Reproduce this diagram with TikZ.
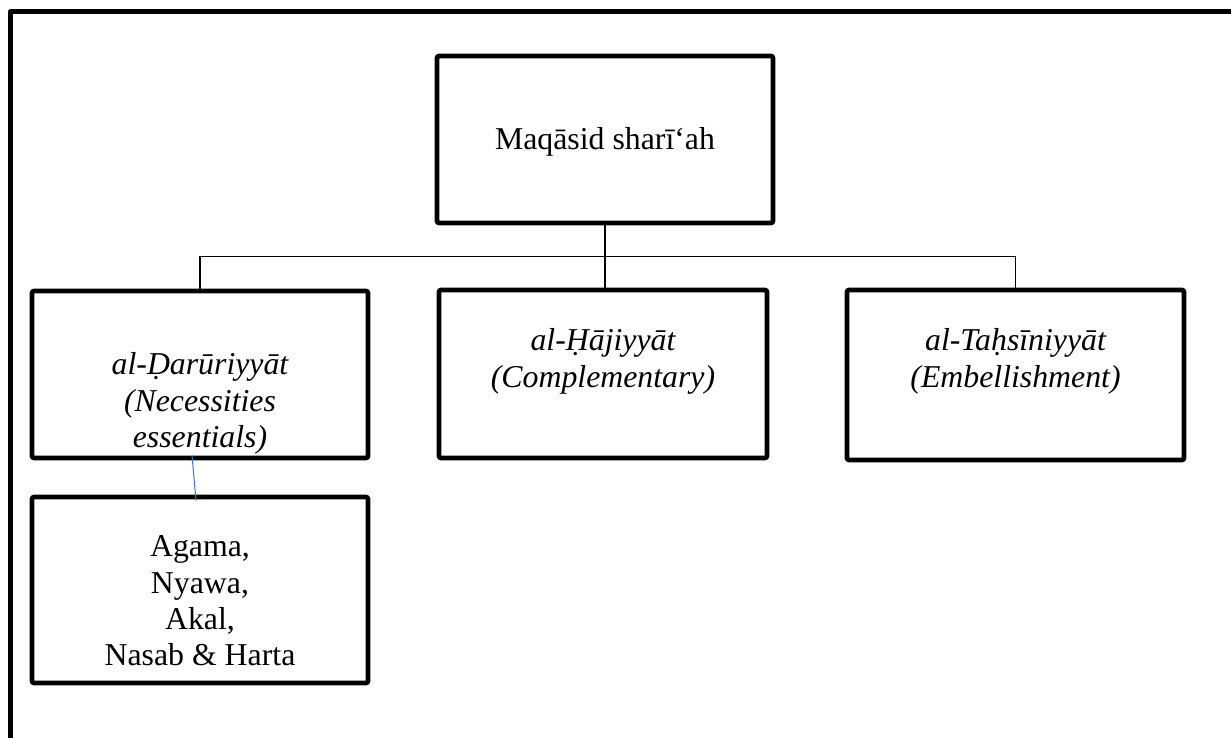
\documentclass[tikz,border=0pt]{standalone}
\usepackage{fontspec}
\setmainfont{Liberation Serif}
\usetikzlibrary{positioning}

\tikzset{
  frame/.style={line width=2.5pt, line join=round},
  box/.style={draw, line width=2.3pt, rounded corners=1pt},
  txt/.style={align=center, inner sep=0pt, font=\fontsize{15.9}{18.2}\selectfont},
  link/.style={line width=0.7pt},
  thread/.style={line width=0.5pt, draw={rgb,255:red,68;green,114;blue,196}}
}

\begin{document}
\begin{tikzpicture}[x=0.5pt, y=-0.5pt]
    \useasboundingbox (0,0) rectangle (1231,738);
    
    % outer frame (top and left edges only)
    \draw [frame] (1231,12) -| (10,738);
    
    % boxes
    \node [box, minimum width=168pt, minimum height=83.5pt] (maqasid) at (605,139.5) {};
    \node [box, minimum width=168pt, minimum height=83.5pt] (dar) at (200,374.5) {};
    \node [box, minimum width=164pt, minimum height=84pt] (hajj) at (603,374) {};
    \node [box, minimum width=168.5pt, minimum height=85pt] (tah) at (1015.5,375) {};
    \node [box, minimum width=168pt, minimum height=93pt] (five) at (200,590) {};
    
    % texts
    \node [txt] (maqasid-t) at (605,142) {Maqāsid sharī‘ah};
    \node [txt] (dar-t) at (200,403.5) {\itshape al-Ḍarūriyyāt\\\itshape (Necessities\\\itshape essentials)};
    \node [txt] (hajj-t) at (603,361.5) {\itshape al-Ḥājiyyāt\\\itshape (Complementary)};
    \node [txt] (tah-t) at (1015.5,361.5) {\itshape al-Taḥsīniyyāt\\\itshape (Embellishment)};
    \node [txt] (five-t) at (200,601) {Agama,\\Nyawa,\\Akal,\\Nasab \& Harta};
    
    % tree connectors
    \coordinate (bus) at ([yshift=-15.5pt]maqasid.south);
    \draw [link] (maqasid.south) -- (maqasid.south |- hajj.north);
    \draw [link] (bus -| dar.north) -- (bus -| tah.north);
    \foreach \n in {dar,tah}
      \draw [link] (bus -| \n.north) -- (\n.north);
    
    \draw [thread] ([xshift=-4pt, yshift=2.5pt]dar.south) -- ([xshift=-2pt, yshift=-3pt]five.north);
\end{tikzpicture}
\end{document}
